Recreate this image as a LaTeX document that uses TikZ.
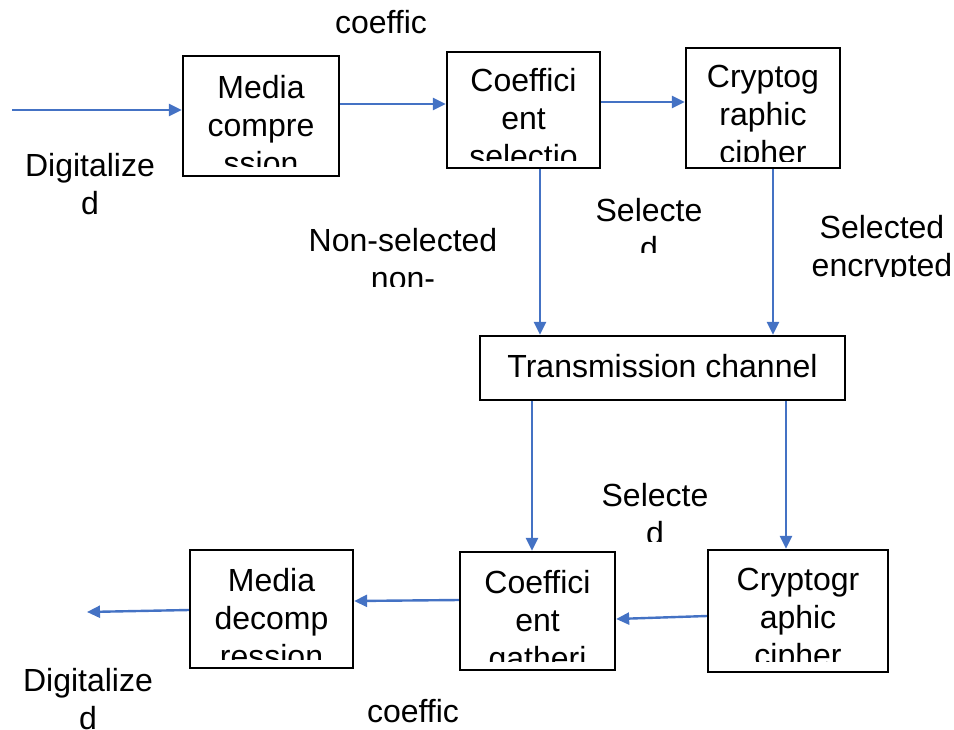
\documentclass[tikz,border=0pt]{standalone}
\usepackage{fontspec}
\setmainfont{Liberation Sans}
\usetikzlibrary{arrows.meta,calc}
\definecolor{arrblue}{HTML}{4472C4}
\begin{document}
\begin{tikzpicture}[x=1pt,y=-1pt,
  box/.style={draw=black,line width=2.3pt,inner sep=0pt},
  txt/.style={font=\fontsize{32}{38}\selectfont,align=center,inner sep=0pt},
  conn/.style={draw=arrblue,line width=2.4pt,-{Triangle[length=13pt,width=12pt]}}]
\useasboundingbox (0,0) rectangle (954,729);
% boxes
\node[box,minimum width=156pt,minimum height=120pt] (mc) at (261,116) {};
\node[box,minimum width=153pt,minimum height=116pt] (cs) at (523.5,110) {};
\node[box,minimum width=154pt,minimum height=120pt] (cc) at (763,108) {};
\node[box,minimum width=365pt,minimum height=64pt] (tc) at (662.5,368) {};
\node[box,minimum width=163pt,minimum height=118pt] (md) at (271.5,609) {};
\node[box,minimum width=155pt,minimum height=118pt] (cg) at (537.5,611) {};
\node[box,minimum width=180pt,minimum height=122pt] (cc2) at (798,611) {};
% box texts (clipped)
\begin{scope}\clip (185,58) rectangle (337,166);
\node[txt] (mct) at (261,125) {Media\\compre\\ssion};\end{scope}
\begin{scope}\clip (449,54) rectangle (598,160);
\node[txt] (cst) at (523.5,118) {Coeffici\\ent\\selectio};\end{scope}
\begin{scope}\clip (688,50) rectangle (838,161);
\node[txt] (cct) at (763,118) {Cryptog\\raphic\\cipher};\end{scope}
\node[txt] (tct) at (662.5,366) {Transmission channel};
\begin{scope}\clip (192,552) rectangle (351,659);
\node[txt] (mdt) at (271.5,618) {Media\\decomp\\ression};\end{scope}
\begin{scope}\clip (462,554) rectangle (613,661);
\node[txt] (cgt) at (537.5,623) {Coeffici\\ent\\gatheri};\end{scope}
\begin{scope}\clip (710,552) rectangle (886,661);
\node[txt] (cc2t) at (798,621) {Cryptogr\\aphic\\cipher};\end{scope}
% labels
\node[txt] (l1) at (381,22) {coeffic};
\node[txt] (l2) at (90,184) {Digitalize\\d};
\begin{scope}\clip (290,215) rectangle (520,286);
\node[txt] (l3) at (403,259) {Non-selected\\non-};\end{scope}
\begin{scope}\clip (580,185) rectangle (720,252);
\node[txt] (l4) at (649,229) {Selecte\\d};\end{scope}
\begin{scope}\clip (800,205) rectangle (954,276);
\node[txt] (l5) at (882,249) {Selected\\encrypted};\end{scope}
\begin{scope}\clip (585,470) rectangle (725,541);
\node[txt] (l6) at (655,514) {Selecte\\d};\end{scope}
\node[txt] (l7) at (88,699) {Digitalize\\d};
\node[txt] (l8) at (413,711) {coeffic};
% connectors
\coordinate (in) at (12,110);
\coordinate (out) at (87,612);
\draw[conn] (in) -- ([yshift=6pt]mc.west);
\draw[conn] ([yshift=12pt]mc.east) -- ([yshift=12pt]mc.east -| cs.west);
\draw[conn] ([yshift=8pt]cs.east) -- ([yshift=8pt]cs.east -| cc.west);
\draw[conn] ([xshift=16.5pt]cs.south) -- ([xshift=16.5pt]cs.south |- tc.north);
\draw[conn] ([xshift=10pt]cc.south) -- ([xshift=10pt]cc.south |- tc.north);
\draw[conn] ([xshift=-5.5pt]cg.north |- tc.south) -- ([xshift=-5.5pt]cg.north);
\draw[conn] ([xshift=-12pt]cc2.north |- tc.south) -- ([xshift=-12pt]cc2.north);
\draw[conn] ([yshift=-5pt]cc2.west) -- ([yshift=-8pt]cg.east);
\draw[conn] ([yshift=11pt]cg.west) -- ([yshift=8pt]md.east);
\draw[conn] ([yshift=-1pt]md.west) -- (out);
\end{tikzpicture}
\end{document}
